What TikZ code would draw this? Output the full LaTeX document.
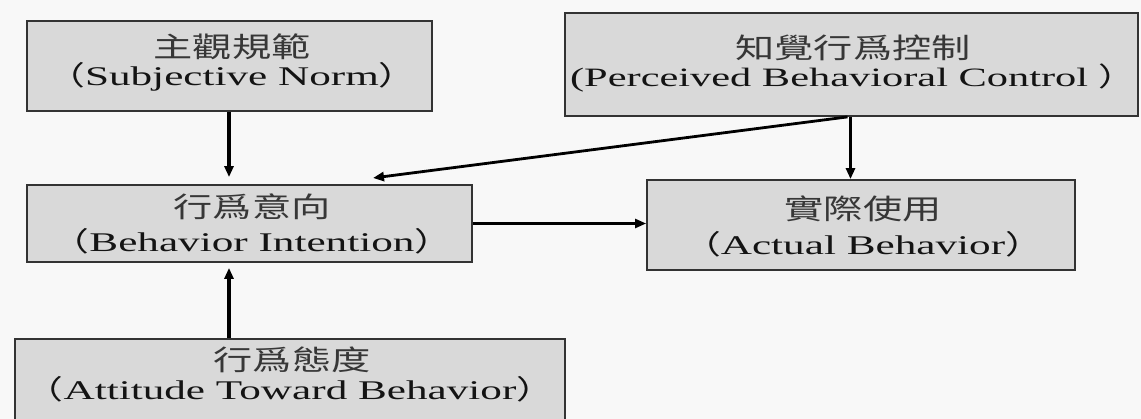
\documentclass[tikz,border=0pt]{standalone}
\usepackage{fontspec}
\setmainfont{Liberation Serif}[FakeStretch=1.6]
\newfontfamily\cjk{Noto Sans CJK TC}[FakeStretch=1.4]
\usetikzlibrary{arrows.meta}
\definecolor{bg}{HTML}{F8F8F8}
\definecolor{boxfill}{HTML}{D9D9D9}
\definecolor{boxline}{HTML}{333333}
\definecolor{ink}{HTML}{141414}
\newcommand\lpar{{\cjk （}}
\newcommand\rpar{{\cjk ）}}
\tikzset{
  box/.style={draw=boxline, fill=boxfill, line width=1.8pt, inner sep=0pt},
  cn/.style={font=\cjk\fontsize{28}{30}\selectfont, text=ink!85, inner sep=0pt},
  en/.style={font=\fontsize{27}{29}\selectfont, text=ink, inner sep=0pt},
  link/.style={draw=black, line width=3.2pt, -{Triangle[length=11pt,width=9pt]}}
}
\begin{document}
\begin{tikzpicture}[x=1pt,y=-1pt]
  \clip (0,0) rectangle (1141,419);
  \fill[bg] (0,0) rectangle (1141,419);

  % boxes
  \node[box, minimum width=405pt, minimum height=90pt]  (sn)  at (229.5,66)   {};
  \node[box, minimum width=573pt, minimum height=103pt] (pbc) at (851.5,64.5) {};
  \node[box, minimum width=445pt, minimum height=77pt]  (bi)  at (249.5,223.5) {};
  \node[box, minimum width=428pt, minimum height=90pt]  (ab)  at (861,225)    {};
  \node[box, minimum width=550pt, minimum height=91pt]  (atb) at (290,384.5)  {};

  % labels
  \node[cn] (snc)  at (232,47)  {主觀規範};
  \node[en] (sne)  at (232,77)  {\lpar Subjective Norm\rpar};
  \node[cn] (pbcc) at (853,48)  {知覺行爲控制};
  \node[en, font=\fontsize{26.5}{29}\selectfont] (pbce) at (853,78)
       {(Perceived Behavioral Control \rpar};
  \node[cn] (bic)  at (252,207) {行爲意向};
  \node[en] (bie)  at (252,241) {\lpar Behavior Intention\rpar};
  \node[cn] (abc)  at (863,209) {實際使用};
  \node[en] (abe)  at (863,244) {\lpar Actual Behavior\rpar};
  \node[cn] (atbc) at (292,360) {行爲態度};
  \node[en] (atbe) at (290,389) {\lpar Attitude Toward Behavior\rpar};

  % connectors
  \coordinate (axis) at (229,0);
  \coordinate (bitip) at (373,178);
  \draw[link, shorten >=7pt] (sn.south -| axis) -- (bi.north -| axis);
  \draw[link, shorten >=5pt] (atb.north -| axis) -- (bi.south -| axis);
  \draw[link] ([xshift=-1pt]pbc.south) -- ([xshift=-1pt]pbc.south |- ab.north);
  \draw[link, line width=2.8pt] ([xshift=-4pt]pbc.south) -- (bitip);
  \draw[link, line width=2.4pt] (bi.east) -- (ab.west |- bi.east);
\end{tikzpicture}
\end{document}
